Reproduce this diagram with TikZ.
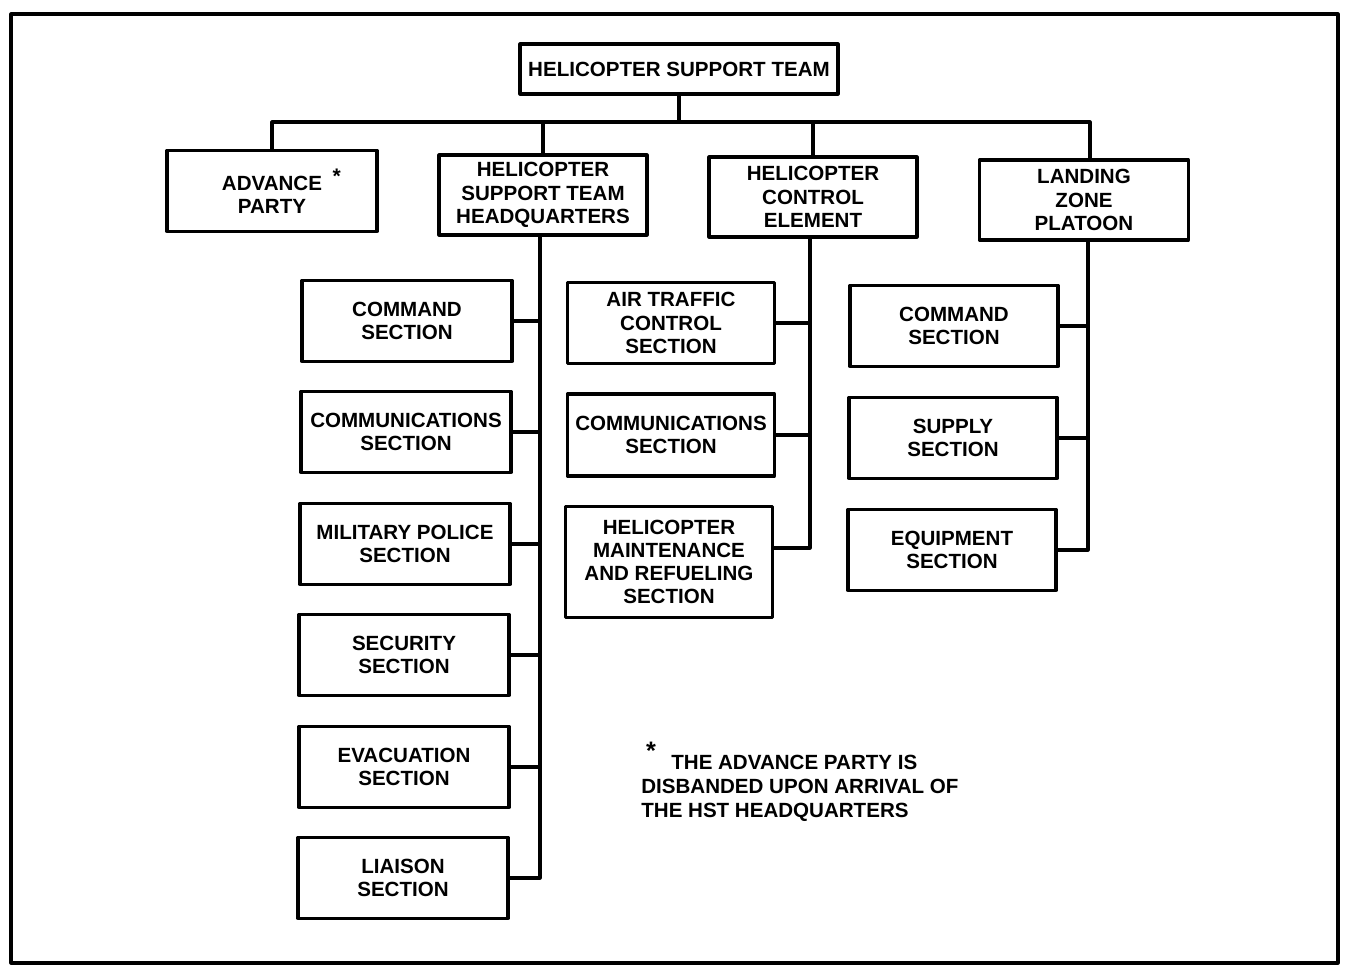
\documentclass[tikz,border=0pt]{standalone}
\usepackage{fontspec}
\setmainfont{Liberation Sans}
\usepackage{tikz}

\begin{document}
\begin{tikzpicture}[x=0.02cm, y=-0.02cm, line cap=round, line join=round,
    unit/.style={draw, line width=1.75pt, align=center, inner sep=0pt,
      minimum width=210*0.02cm, minimum height=81*0.02cm,
      font=\bfseries\fontsize{11.7}{13.2}\selectfont},
    link/.style={line width=1.75pt}]
  \useasboundingbox (0,0) rectangle (1350,970);
  % Outer frame
  \draw[line width=1.8pt] (11,14) rectangle (1338,963);
  % Top of the team
  \node[unit, minimum width=318*0.02cm, minimum height=50*0.02cm] (hst) at (679,69) {HELICOPTER SUPPORT TEAM};
  \coordinate (bus) at (679,122);
  % Second level
  \node[unit] (adv) at (272,191) {ADVANCE\rlap{\hspace{6pt}\raisebox{4pt}{\large *}}\\PARTY};
  \node[unit, minimum width=208*0.02cm, minimum height=80*0.02cm] (hq) at (543,195) {HELICOPTER\\SUPPORT TEAM\\HEADQUARTERS};
  \node[unit, minimum width=208*0.02cm, minimum height=80*0.02cm] (hce) at (813,197) {HELICOPTER\\CONTROL\\ELEMENT};
  \node[unit, minimum width=209*0.02cm, minimum height=80*0.02cm] (lzp) at (1084,200) {LANDING\\ZONE\\PLATOON};
  % Headquarters sections
  \node[unit] (hqcmd) at (407,321) {COMMAND\\SECTION};
  \node[unit] (hqcom) at (406,432) {COMMUNICATIONS\\SECTION};
  \node[unit] (hqmp)  at (405,544) {MILITARY POLICE\\SECTION};
  \node[unit] (hqsec) at (404,655) {SECURITY\\SECTION};
  \node[unit] (hqevc) at (404,767) {EVACUATION\\SECTION};
  \node[unit] (hqlia) at (403,878) {LIAISON\\SECTION};
  % Control element sections
  \node[unit, minimum width=207*0.02cm] (atc) at (671,323) {AIR TRAFFIC\\CONTROL\\SECTION};
  \node[unit, minimum width=207*0.02cm, minimum height=82*0.02cm] (hcecom) at (671,435) {COMMUNICATIONS\\SECTION};
  \node[unit, minimum width=207*0.02cm, minimum height=111*0.02cm] (hmrs) at (669,562) {HELICOPTER\\MAINTENANCE\\AND REFUELING\\SECTION};
  % Landing zone sections
  \node[unit, minimum width=208*0.02cm] (lzcmd) at (954,326) {COMMAND\\SECTION};
  \node[unit, minimum width=208*0.02cm] (lzsup) at (953,438) {SUPPLY\\SECTION};
  \node[unit, minimum width=208*0.02cm] (lzeqp) at (952,550) {EQUIPMENT\\SECTION};
  % Trunk points
  \coordinate (hqtrunk) at ([xshift=-3*0.02cm]hq.south);
  \coordinate (hcetrunk) at ([xshift=-3*0.02cm]hce.south);
  \coordinate (lztrunk) at ([xshift=4*0.02cm]lzp.south);
  % Connectors, top
  \draw[link] (hst.south) -- (bus);
  \draw[link] (adv.north) |- (bus) -| ([xshift=6*0.02cm]lzp.north);
  \draw[link] (hq.north) -- (hq.north |- bus);
  \draw[link] (hce.north) -- (hce.north |- bus);
  % Connectors, headquarters
  \draw[link] (hqtrunk) |- (hqlia.east);
  \foreach \s in {hqcmd,hqcom,hqmp,hqsec,hqevc}
    \draw[link] (\s.east) -- (\s.east -| hqtrunk);
  % Connectors, control element
  \draw[link] (hcetrunk) |- ([yshift=14*0.02cm]hmrs.east);
  \foreach \s in {atc,hcecom}
    \draw[link] (\s.east) -- (\s.east -| hcetrunk);
  % Connectors, landing zone
  \draw[link] (lztrunk) |- (lzeqp.east);
  \foreach \s in {lzcmd,lzsup}
    \draw[link] (\s.east) -- (\s.east -| lztrunk);
  % Note
  \node[font=\bfseries\Large] (star) at (651,751) {*};
  \node[anchor=north west, align=left, inner sep=0pt,
    font=\bfseries\fontsize{11.7}{13.6}\selectfont] (note) at (641,755)
    {\hspace{0.6cm}THE ADVANCE PARTY IS\\DISBANDED UPON ARRIVAL OF\\THE HST HEADQUARTERS};
\end{tikzpicture}
\end{document}
